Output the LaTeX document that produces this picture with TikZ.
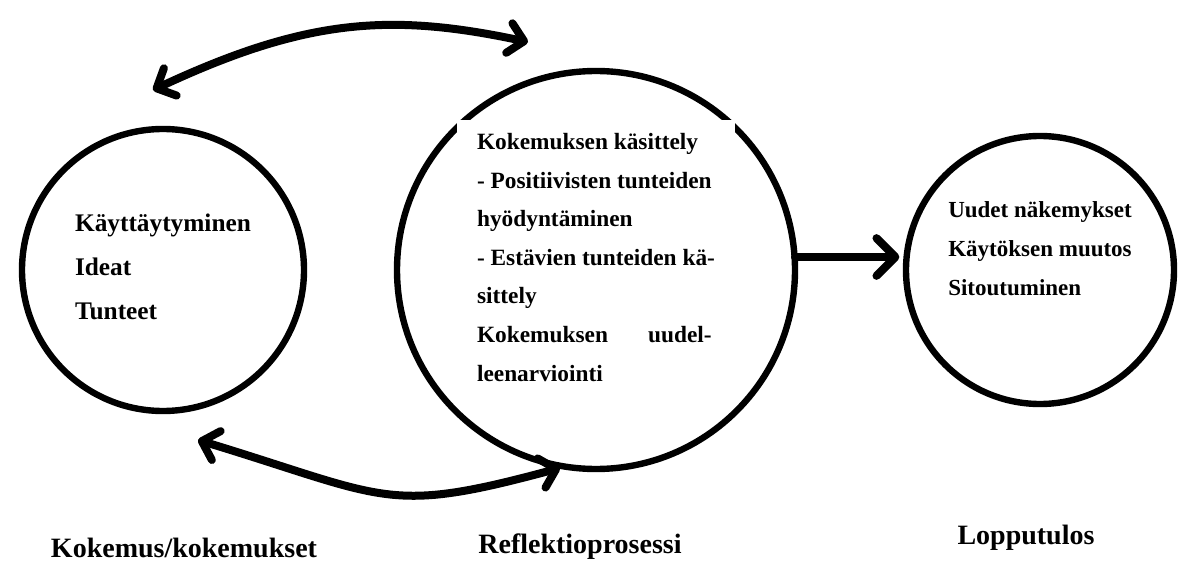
\documentclass[tikz,border=0pt]{standalone}
\usepackage{fontspec}
\setmainfont{Liberation Serif}
\usetikzlibrary{positioning,arrows.meta}
\tikzstyle{bubble} = [circle, draw, line width=4.8pt, inner sep=0pt, outer sep=0pt]
\tikzstyle{txt} = [align=left, inner sep=0pt]
\tikzstyle{caption} = [font=\bfseries\fontsize{21pt}{25pt}\selectfont, inner sep=0pt]
\tikzstyle{line} = [draw, line width=6pt, line cap=round]

\begin{document}
\begin{tikzpicture}[x=0.75pt, y=-0.75pt, >={Straight Barb[angle=90:16pt, round]}]
    \path [use as bounding box, fill=white] (0,0) rectangle (1178,563);
    % Place nodes
    \node [bubble, minimum size=211.5pt] (kok) at (163,270) {};
    \node [bubble, minimum size=298.5pt, right of=kok, node distance=324.75pt] (refl) {};
    \node [bubble, minimum size=201pt, right of=refl, node distance=333pt] (tulos) {};
    \node [txt, font=\bfseries\fontsize{19pt}{33pt}\selectfont, above of=kok, node distance=2.4pt] (kokt)
        {Käyttäytyminen\\Ideat\\Tunteet};
    \node [txt, fill=white, inner xsep=15pt, inner ysep=10pt, font=\bfseries\fontsize{17.5pt}{28.9pt}\selectfont,
        above of=refl, node distance=9.4pt] (reflt)
        {Kokemuksen käsittely\\- Positiivisten tunteiden\\hyödyntäminen\\- Estävien tunteiden kä-\\sittely\\
         \hbox to 176pt{Kokemuksen\hfill uudel-}\\leenarviointi};
    \node [txt, font=\bfseries\fontsize{17.25pt}{28.9pt}\selectfont, above of=tulos, node distance=16pt] (tulost)
        {Uudet näkemykset\\Käytöksen muutos\\Sitoutuminen};
    \node [caption, below of=kok, node distance=208.5pt, xshift=15.75pt] (kokl) {Kokemus/kokemukset};
    \node [caption, below of=refl, node distance=207.4pt, xshift=-12pt] (refll) {Reflektioprosessi};
    \node [caption, below of=tulos, node distance=200.6pt, xshift=-10.5pt] (tulosl) {Lopputulos};
    \coordinate (tl) at (153,90);
    \coordinate (tr) at (528,42);
    \coordinate (bl) at (198,440);
    \coordinate (br) at (560,468);
    % Draw edges
    \path [line, <->] (tl) .. controls +(154,-72) and +(-137,-29) .. (tr);
    \path [line, <->] (bl) .. controls +(191,58) and +(-174,47) .. (br);
    \path [line, ->, >={Straight Barb[angle=90:20pt, round]}, shorten >=5pt]
        ([yshift=9.75pt]refl.east) -- ([yshift=9.75pt]tulos.west);
\end{tikzpicture}
\end{document}
